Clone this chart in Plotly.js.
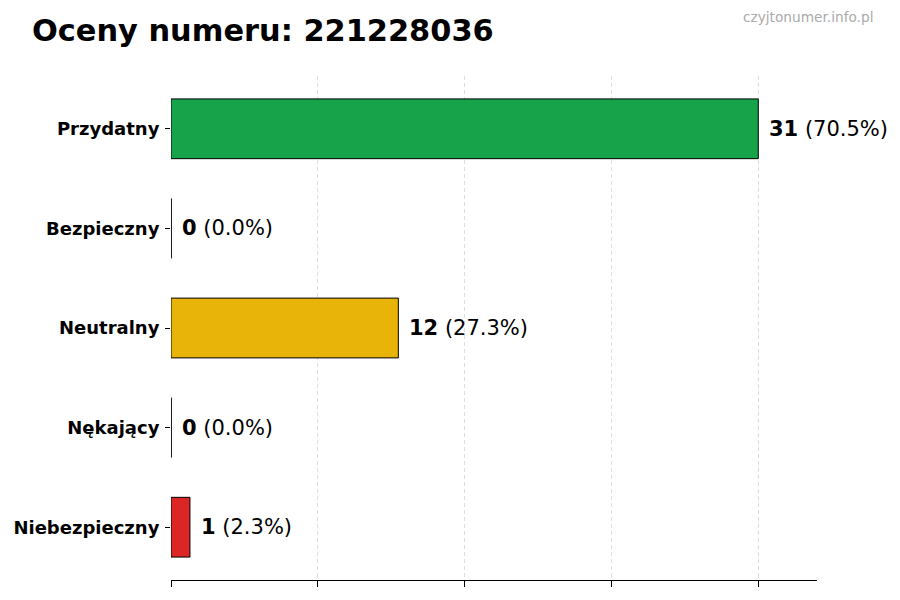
<!DOCTYPE html>
<html>
<head>
<meta charset="utf-8">
<script src="https://cdn.plot.ly/plotly-3.0.1.min.js"></script>
<style>
  html, body { margin: 0; padding: 0; background: #fff; }
  #chart { width: 900px; height: 600px; }
</style>
</head>
<body>
<div id="chart"></div>
<script>
// kategorie od góry do dołu
const categories = ["Przydatny", "Bezpieczny", "Neutralny", "Nękający", "Niebezpieczny"];
const counts = [31, 0, 12, 0, 1];
const percents = ["70.5%", "0.0%", "27.3%", "0.0%", "2.3%"];
const barColors = ["#17a34a", "#17a34a", "#e9b40a", "#dc2626", "#dc2626"];

const phone = "221228036";
const FONT = "DejaVu Sans, sans-serif";

const maxCount = Math.max(...counts);
const gridVals = [0, 0.25, 0.5, 0.75, 1].map(f => f * maxCount);

const trace = {
  type: "bar",
  orientation: "h",
  x: counts,
  y: categories,
  width: 0.6,
  marker: { color: barColors, line: { color: "#000", width: 1 } },
  hoverinfo: "skip",
};

// etykiety z wartością i procentem
const annotations = categories.map((c, i) => ({
  x: counts[i],
  y: c,
  xref: "x",
  yref: "y",
  text: `<b>${counts[i]}</b> (${percents[i]})`,
  showarrow: false,
  xanchor: "left",
  yanchor: "middle",
  xshift: 9,
  font: { family: FONT, size: 21, color: "#000" },
}));

annotations.push({
  text: "czyjtonumer.info.pl",
  xref: "paper", yref: "paper",
  x: 1 + 58 / 646, y: 1 + 59 / 504,
  xanchor: "right", yanchor: "middle",
  showarrow: false,
  font: { family: FONT, size: 13.7, color: "#aaa" },
});

// zerowe słupki: sama krawędź
const shapes = categories
  .map((c, i) => ({ c, i }))
  .filter(d => counts[d.i] === 0)
  .map(d => ({
    type: "line",
    xref: "x", yref: "y",
    x0: counts[d.i], x1: counts[d.i],
    y0: d.i - 0.3, y1: d.i + 0.3,
    line: { color: "#000", width: 1 },
  }));

const layout = {
  width: 900,
  height: 600,
  margin: { l: 171, r: 83, t: 76, b: 20, pad: 0 },
  paper_bgcolor: "#fff",
  plot_bgcolor: "#fff",
  showlegend: false,
  font: { family: FONT, color: "#000" },
  title: {
    text: `<b>Oceny numeru: ${phone}</b>`,
    xref: "container", yref: "container",
    x: 32 / 900, y: 1 - 30 / 600,
    xanchor: "left", yanchor: "middle",
    font: { family: FONT, size: 30.4, color: "#000" },
  },
  xaxis: {
    range: [0, maxCount * 1.1],
    tickmode: "array",
    tickvals: gridVals,
    showticklabels: false,
    ticks: "outside",
    ticklen: 6,
    tickcolor: "#000",
    showgrid: true,
    gridcolor: "rgba(0,0,0,0.13)",
    griddash: "4px,3px",
    gridwidth: 1,
    zeroline: false,
    showline: true,
    linecolor: "#000",
    linewidth: 1.2,
    fixedrange: true,
  },
  yaxis: {
    type: "category",
    range: [4.53, -0.53],
    ticks: "outside",
    ticklen: 5,
    tickcolor: "#000",
    ticklabelstandoff: 2,
    showline: false,
    showgrid: false,
    zeroline: false,
    tickfont: { family: FONT, size: 18, color: "#000", weight: "bold" },
    fixedrange: true,
  },
  annotations,
  shapes,
};

Plotly.newPlot("chart", [trace], layout, { displayModeBar: false, staticPlot: true });
</script>
</body>
</html>
